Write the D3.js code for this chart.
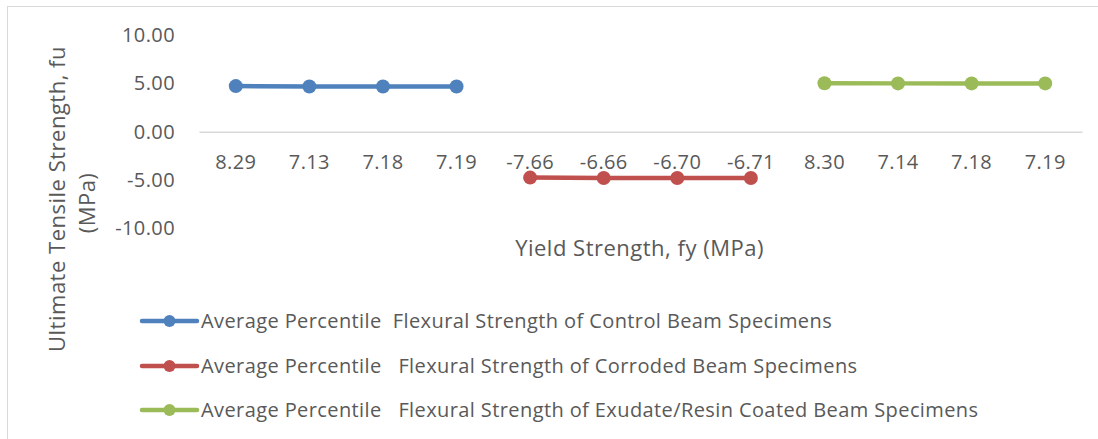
<!DOCTYPE html>
<html><head><meta charset="utf-8">
<script src="https://cdn.jsdelivr.net/npm/d3@7"></script>
<style>body{margin:0;background:#fff}svg{display:block}</style>
</head><body><svg id="c" width="1098" height="439"></svg>
<script>
const categories = ["8.29","7.13","7.18","7.19","-7.66","-6.66","-6.70","-6.71","8.30","7.14","7.18","7.19"];
const controlValues = [4.72, 4.68, 4.68, 4.68, null, null, null, null, null, null, null, null];
const corrodedValues = [null, null, null, null, -4.74, -4.78, -4.78, -4.78, null, null, null, null];
const coatedValues = [null, null, null, null, null, null, null, null, 5.02, 5.00, 5.00, 5.00];
const yTicks = [-10, -5, 0, 5, 10];
const seriesNames = [
  "Average Percentile  Flexural Strength of Control Beam Specimens",
  "Average Percentile   Flexural Strength of Corroded Beam Specimens",
  "Average Percentile   Flexural Strength of Exudate/Resin Coated Beam Specimens"
];
const seriesColors = ["#4f81bd", "#c0504d", "#9bbb59"];
const seriesValues = [controlValues, corrodedValues, coatedValues];

const FONT = "'Open Sans', sans-serif";
const FS = 20;
const LS = "0.4px";
const TFS = 22;
const TLS = "0.5px";
const TXT = "#595959";
const svg = d3.select("#c");

svg.append("rect").attr("x", 7.5).attr("y", 6.5).attr("width", 1200).attr("height", 600)
  .attr("fill", "none").attr("stroke", "#d9d9d9").attr("stroke-width", 1);

const x = d3.scaleBand().domain(d3.range(categories.length)).range([199, 1082]);
const y = d3.scaleLinear().domain([-10, 10]).range([228.5, 35]);

// Y axis
const yAxis = svg.append("g").attr("transform", "translate(182,0)")
  .call(d3.axisLeft(y).tickValues(yTicks).tickSize(0).tickPadding(7).tickFormat(d => d.toFixed(2)));
yAxis.select(".domain").remove();
yAxis.selectAll("text").attr("font-family", FONT).attr("font-size", FS).attr("fill", TXT)
  .style("letter-spacing", LS);

// X axis at zero
const xAxis = svg.append("g").attr("transform", `translate(0,${y(0)})`)
  .call(d3.axisBottom(x).tickSize(0).tickPadding(23).tickFormat(i => categories[i]));
xAxis.select(".domain").attr("stroke", "#d9d9d9").attr("stroke-width", 1.3);
xAxis.selectAll("text").attr("font-family", FONT).attr("font-size", FS).attr("fill", TXT)
  .style("letter-spacing", LS);

// Series
const line = d3.line().defined(d => d != null)
  .x((d, i) => x(i) + x.bandwidth() / 2).y(d => y(d));
seriesValues.forEach((vals, s) => {
  svg.append("path").datum(vals).attr("d", line).attr("fill", "none")
    .attr("stroke", seriesColors[s]).attr("stroke-width", 4.5).attr("stroke-linejoin", "round");
  svg.append("g").selectAll("circle").data(vals.map((v, i) => ({v, i})).filter(d => d.v != null))
    .join("circle").attr("cx", d => x(d.i) + x.bandwidth() / 2).attr("cy", d => y(d.v))
    .attr("r", 7).attr("fill", seriesColors[s]);
});

// Axis titles
svg.append("text").attr("transform", "translate(639.5,256)").attr("text-anchor", "middle")
  .attr("font-family", FONT).attr("font-size", TFS).attr("fill", TXT).style("letter-spacing", TLS)
  .text("Yield Strength, fy (MPa)");
const yt = svg.append("text").attr("transform", "translate(0,199) rotate(-90)").attr("text-anchor", "middle")
  .attr("font-family", FONT).attr("font-size", TFS).attr("fill", TXT).style("letter-spacing", TLS);
yt.append("tspan").attr("x", 0).attr("y", 65).text("Ultimate Tensile Strength, fu");
yt.append("tspan").attr("x", -4).attr("y", 95).text("(MPa)");

// Legend
const legY = [321, 366, 410];
seriesNames.forEach((name, s) => {
  const g = svg.append("g").attr("transform", `translate(0,${legY[s]})`);
  g.append("line").attr("x1", 142).attr("x2", 197).attr("y1", 0).attr("y2", 0)
    .attr("stroke", seriesColors[s]).attr("stroke-width", 4.5).attr("stroke-linecap", "round");
  g.append("circle").attr("cx", 169.5).attr("cy", 0).attr("r", 6).attr("fill", seriesColors[s]);
  g.append("text").attr("x", 201).attr("y", 7).attr("font-family", FONT).attr("font-size", FS)
    .attr("fill", TXT).style("letter-spacing", LS).style("white-space", "pre").text(name);
});
</script></body></html>
